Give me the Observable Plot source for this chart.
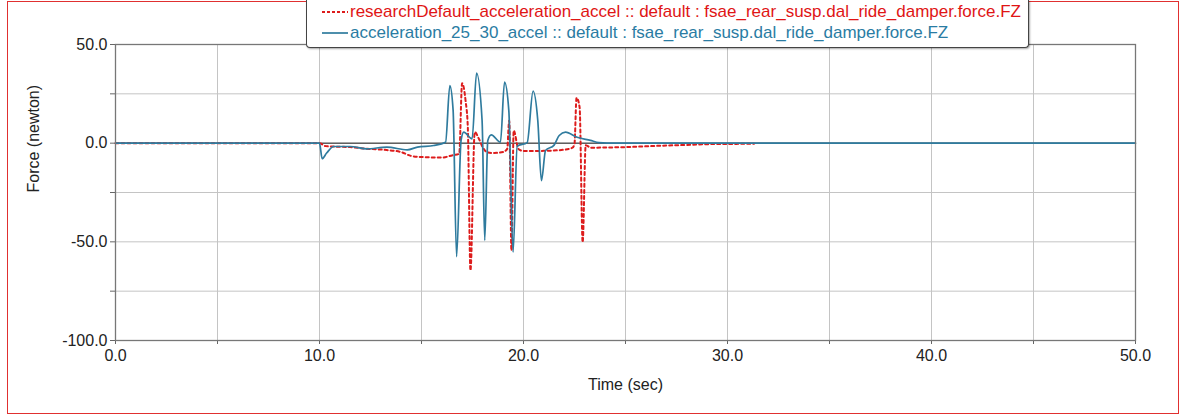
<!DOCTYPE html>
<html>
<head>
<meta charset="utf-8">
<script src="https://cdn.jsdelivr.net/npm/d3@7"></script>
<script src="https://cdn.jsdelivr.net/npm/@observablehq/plot@0.6"></script>
<style>
  html, body { margin: 0; padding: 0; background: white; }
  #wrap { position: relative; width: 1179px; height: 415px; overflow: hidden; font-family: "Liberation Sans", Arial, sans-serif; }
  #wrap > svg { position: absolute; left: 0; top: 0; }
  #border { position: absolute; left: 7px; top: 1px; width: 1170px; height: 411px; border: 1px solid #e03030; pointer-events: none; }
  #legend { position: absolute; left: 306px; top: 0px; width: 721px; height: 47px; background: white; border: 1px solid #444; border-top: none; border-radius: 0 0 4px 4px; box-shadow: 1px 1px 2px rgba(0,0,0,0.35); }
  .row { position: absolute; left: 15px; display: flex; align-items: center; white-space: nowrap; font-size: 17px; }
  .row svg { margin-right: 2px; }
</style>
</head>
<body>
<div id="wrap">
  <div id="border"></div>
</div>
<script>
// ---- data ----
const seriesNames = [
  "researchDefault_acceleration_accel :: default : fsae_rear_susp.dal_ride_damper.force.FZ",
  "acceleration_25_30_accel :: default : fsae_rear_susp.dal_ride_damper.force.FZ"
];
const redTime  = [0, 10.0, 10.3, 10.6, 11.5, 12.3, 13.3, 14.0, 14.5, 15.0, 16.0, 16.5, 16.85, 16.99, 17.16, 17.27, 17.40, 17.61, 17.8, 18.0, 18.2, 18.5, 19.0, 19.2, 19.3, 19.41, 19.52, 19.75, 20.0, 21.0, 22.0, 22.4, 22.5, 22.6, 22.75, 22.9, 23.05, 23.3, 24.0, 25.0, 26.0, 27.0, 28.0, 29.0, 30.0, 31.3];
const redForce = [0, 0, -1.5, -1.7, -2.0, -2.8, -3.5, -4.5, -6.5, -7.0, -7.3, -6.2, -5.4, 30.4, 21.6, 8.1, -64.5, 5.6, 2.5, -2.0, -4.5, -5.0, -4.5, -2.9, 11.5, -54.4, 6.4, -2.9, -4.0, -3.9, -3.3, -2.3, -0.3, 23.0, 18.2, -50.2, -1.0, -2.3, -2.2, -2.0, -1.6, -1.2, -0.9, -0.5, -0.4, -0.3];
const blueTime  = [0, 10.0, 10.13, 10.35, 10.7, 11.5, 12.3, 13.3, 14.3, 14.8, 15.6, 16.18, 16.39, 16.55, 16.72, 16.94, 17.07, 17.48, 17.70, 17.97, 18.10, 18.25, 18.42, 18.87, 19.07, 19.28, 19.49, 19.69, 20.18, 20.47, 20.70, 20.88, 21.08, 21.5, 21.75, 22.06, 22.63, 23.28, 23.7, 24.5, 50];
const blueForce = [0, 0, -7.9, -5.0, -1.7, -1.7, -2.9, -2.0, -3.4, -2.0, -1.2, 0.5, 29.2, 16.6, -57.5, 1.4, 5.6, 2.2, 35.5, 11.5, -49.3, 1.4, 4.2, 0.5, 30.9, 16.6, -55.2, -1.5, 0.3, 26.4, 11.5, -19.0, -3.7, -1.0, 3.9, 5.6, 3.0, 1.4, 0.3, 0, 0];
const zeroTime = [0, 50];
const xTickLabels = [0, 10, 20, 30, 40, 50];
const xMinorTicks = [0, 5, 10, 15, 20, 25, 30, 35, 40, 45, 50];
const yTickLabels = [-100, -50, 0, 50];
const yMinorTicks = [-100, -75, -50, -25, 0, 25, 50];
const xLabel = "Time (sec)";
const yLabel = "Force (newton)";

const colors = { red: "#dd1c1c", blue: "#2f7b9e", redText: "#e01515", blueText: "#2a7ca3" };

const redData = redTime.map((t, i) => ({ t, v: redForce[i] }));
const blueData = blueTime.map((t, i) => ({ t, v: blueForce[i] }));
const zeroData = zeroTime.map(t => ({ t, v: 0 }));

const fmt = d => d.toFixed(1);

const chart = Plot.plot({
  width: 1179,
  height: 415,
  marginLeft: 115,
  marginRight: 44,
  marginTop: 44,
  marginBottom: 75,
  style: { fontFamily: "'Liberation Sans', Arial, sans-serif", fontSize: "16px", background: "transparent", color: "#222" },
  x: { domain: [0, 50] },
  y: { domain: [-100, 50] },
  marks: [
    Plot.gridX(xMinorTicks, { stroke: "#c4c4c4", strokeOpacity: 1 }),
    Plot.gridY(yMinorTicks, { stroke: "#c4c4c4", strokeOpacity: 1 }),
    Plot.axisX(xMinorTicks, { tickSize: 4, tickFormat: () => "", label: null, stroke: "#666" }),
    Plot.axisX(xTickLabels, { tickSize: 0, tickPadding: 9, tickFormat: fmt, label: null, fontSize: 16, fill: "#222" }),
    Plot.axisY(yMinorTicks, { tickSize: 5, tickFormat: () => "", label: null, stroke: "#666" }),
    Plot.axisY(yTickLabels, { tickSize: 0, tickPadding: 8, tickFormat: fmt, label: null, fontSize: 16, fill: "#222" }),
    Plot.line(zeroData, { x: "t", y: "v", stroke: "#222", strokeWidth: 1 }),
    Plot.line(redData, { x: "t", y: "v", stroke: colors.red, strokeWidth: 2, strokeDasharray: "3,3", curve: "monotone-x" }),
    Plot.line(blueData, { x: "t", y: "v", stroke: colors.blue, strokeWidth: 1.7, curve: "monotone-x" }),
    Plot.frame({ stroke: "#777", strokeWidth: 1.3 }),
    Plot.text([xLabel], { frameAnchor: "bottom", dy: 49, fontSize: 16, fill: "#222" }),
    Plot.text([yLabel], { frameAnchor: "left", dx: -82, rotate: -90, fontSize: 16, fill: "#222" })
  ]
});

const wrap = document.getElementById("wrap");
wrap.insertBefore(chart, wrap.firstChild);

// legend overlay
const legend = document.createElement("div");
legend.id = "legend";
const rows = [
  { name: seriesNames[0], color: colors.red, text: colors.redText, dash: "3,2", w: 2, top: 2 },
  { name: seriesNames[1], color: colors.blue, text: colors.blueText, dash: null, w: 1.7, top: 23 }
];
rows.forEach(r => {
  const row = document.createElement("div");
  row.className = "row";
  row.style.top = r.top + "px";
  row.style.color = r.text;
  row.innerHTML = `<svg width="26" height="10"><line x1="0" y1="5" x2="26" y2="5" stroke="${r.color}" stroke-width="${r.w}" ${r.dash ? `stroke-dasharray="${r.dash}"` : ""}/></svg><span>${r.name}</span>`;
  legend.appendChild(row);
});
wrap.appendChild(legend);
</script>
</body>
</html>
